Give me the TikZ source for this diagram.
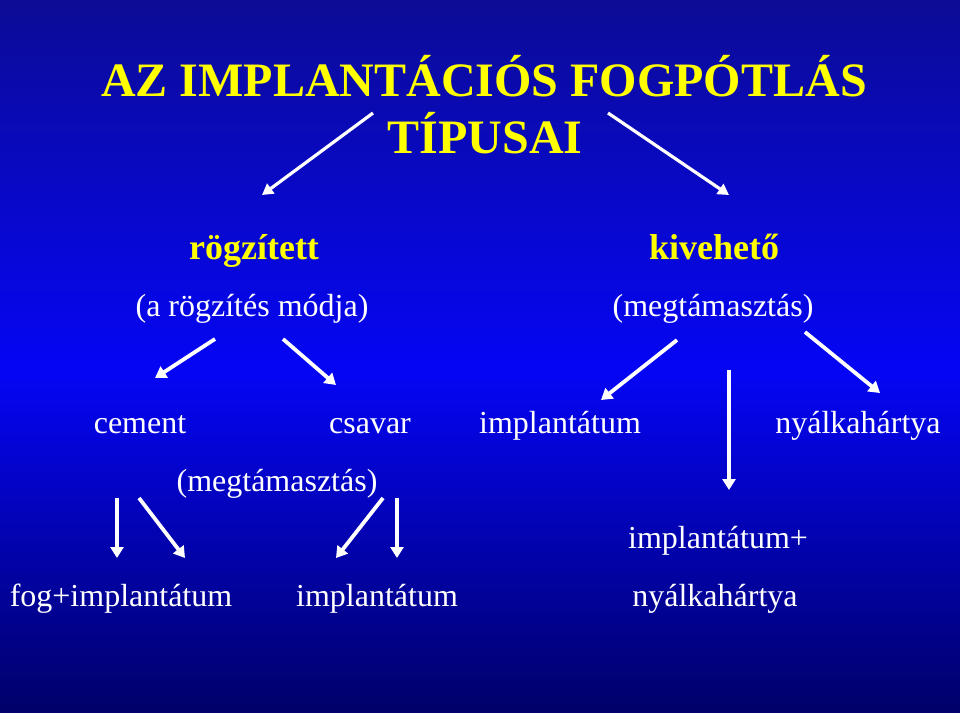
\documentclass[tikz,border=0pt]{standalone}
\usepackage{fontspec}
\setmainfont{Liberation Serif}
\usetikzlibrary{arrows.meta}
\usetikzlibrary{positioning}

\definecolor{slidetop}{RGB}{12,12,150}
\definecolor{slidemid}{RGB}{5,5,245}
\definecolor{slidebot}{RGB}{0,0,105}
\definecolor{slideyellow}{RGB}{255,255,0}

\tikzset{
  titletext/.style={anchor=base, inner sep=0pt, text=slideyellow, font=\fontsize{48}{50}\selectfont\bfseries},
  headtext/.style={anchor=base, inner sep=0pt, text=slideyellow, font=\fontsize{36}{40}\selectfont\bfseries},
  plaintext/.style={anchor=base, inner sep=0pt, text=white, font=\fontsize{32}{36}\selectfont},
  arr/.style={white, line width=3.8pt, -{Triangle[width=13pt,length=11pt]}},
  thinarr/.style={white, line width=3.2pt, -{Triangle[width=12pt,length=11pt]}}
}

\begin{document}
\begin{tikzpicture}[x=1pt,y=-1pt]
		% background
		\useasboundingbox (0,0) rectangle (960,712);
		\shade [top color=slidetop, bottom color=slidemid] (0,0) rectangle (960,370);
		\shade [top color=slidemid, bottom color=slidebot] (0,370) rectangle (960,712);
		% title
		\node [titletext] (title) at (484,96) {AZ IMPLANTÁCIÓS FOGPÓTLÁS};
		\node [titletext] (tipusai) at (485,153) {TÍPUSAI};
		% second level
		\node [headtext] (fixed) at (254,259) {rögzített};
		\node [headtext] (removable) at (714,259) {kivehető};
		\node [plaintext] (fixhow) at (252,316) {(a rögzítés módja)};
		\node [plaintext] (remsupp) at (713,316) {(megtámasztás)};
		% third level
		\node [plaintext] (cement) at (140,433) {cement};
		\node [plaintext] (screw) at (370,433) {csavar};
		\node [plaintext] (implant) at (560,433) {implantátum};
		\node [plaintext] (mucosa) at (858,433) {nyálkahártya};
		\node [plaintext] (supp) at (277,491) {(megtámasztás)};
		% bottom level
		\node [plaintext] (toothimp) at (121,606) {fog+implantátum};
		\node [plaintext] (imponly) at (377,606) {implantátum};
		\node [plaintext] (impplus) at (718,548) {implantátum+};
		\node [plaintext] (impmuc) at (715,606) {nyálkahártya};
		% arrow ends
		\coordinate (t1) at (373,113);
		\coordinate (t2) at (262,195);
		\coordinate (t3) at (608,113);
		\coordinate (t4) at (729,195);
		\coordinate (f1) at (215,339);
		\coordinate (f2) at (155,378);
		\coordinate (f3) at (283,339);
		\coordinate (f4) at (336,385);
		\coordinate (r1) at (677,340);
		\coordinate (r2) at (601,400);
		\coordinate (r3) at (729,370);
		\coordinate (r4) at (729,490);
		\coordinate (r5) at (805,332);
		\coordinate (r6) at (880,393);
		\coordinate (c1) at (117,498);
		\coordinate (c2) at (117,558);
		\coordinate (c3) at (139,498);
		\coordinate (c4) at (185,558);
		\coordinate (s1) at (383,498);
		\coordinate (s2) at (336,558);
		\coordinate (s3) at (397,498);
		\coordinate (s4) at (397,558);
		% arrows
		\draw [thinarr] (t1) -- (t2);
		\draw [thinarr] (t3) -- (t4);
		\draw [arr] (f1) -- (f2);
		\draw [arr] (f3) -- (f4);
		\draw [arr] (r1) -- (r2);
		\draw [arr] (r3) -- (r4);
		\draw [arr] (r5) -- (r6);
		\draw [arr] (c1) -- (c2);
		\draw [arr] (c3) -- (c4);
		\draw [arr] (s1) -- (s2);
		\draw [arr] (s3) -- (s4);
\end{tikzpicture}
\end{document}
